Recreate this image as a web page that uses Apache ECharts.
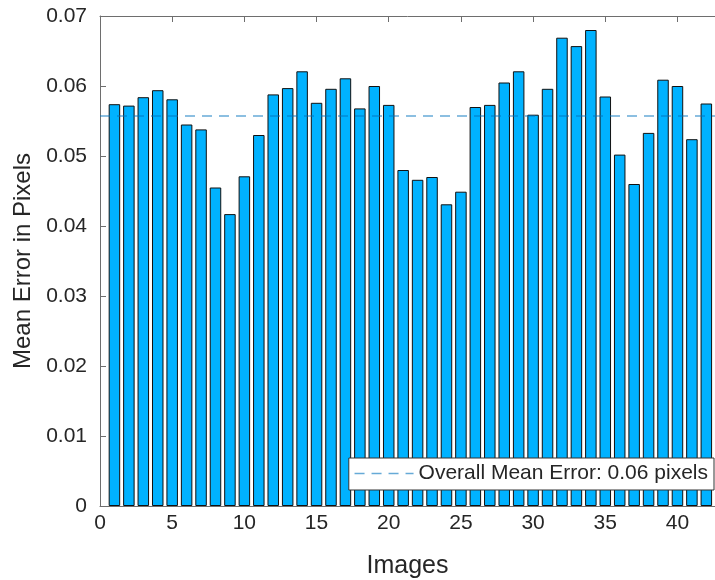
<!DOCTYPE html>
<html>
<head>
<meta charset="utf-8">
<script src="https://cdn.jsdelivr.net/npm/echarts@6/dist/echarts.min.js"></script>
<style>
  html, body { margin: 0; padding: 0; background: #fff; }
  #chart { width: 715px; height: 580px; }
</style>
</head>
<body>
<div id="chart"></div>
<script>
// Per-image reprojection error (pixels), images 1..42
const images = [1,2,3,4,5,6,7,8,9,10,11,12,13,14,15,16,17,18,19,20,21,
                22,23,24,25,26,27,28,29,30,31,32,33,34,35,36,37,38,39,40,41,42];
const meanErrors = [0.0574,0.0572,0.0584,0.0594,0.0581,0.0545,0.0538,0.0455,0.0417,0.0471,
                    0.0530,0.0588,0.0597,0.0621,0.0576,0.0596,0.0611,0.0568,0.0600,0.0573,
                    0.0480,0.0466,0.0470,0.0431,0.0449,0.0570,0.0573,0.0605,0.0621,0.0559,
                    0.0596,0.0669,0.0657,0.0680,0.0585,0.0502,0.0460,0.0533,0.0609,0.0600,
                    0.0524,0.0575];
const overallMean = 0.0557;
const legendLabel = 'Overall Mean Error: 0.06 pixels';
const xRange = [0, 42.6];
const yRange = [0, 0.07];

const FONT = 'Liberation Sans, Arial, Helvetica, sans-serif';
const AXIS_COLOR = '#6e6e6e';
const TEXT_COLOR = '#262626';
const MEAN_COLOR = 'rgba(0,114,189,0.6)';

const chart = echarts.init(document.getElementById('chart'), null, { renderer: 'canvas' });

const barData = images.map((x, i) => [x, meanErrors[i]]);
const meanLine = xRange.map(x => [x, overallMean]);

chart.setOption({
  animation: false,
  backgroundColor: '#fff',
  textStyle: { fontFamily: FONT },
  grid: { left: 100, right: 0, top: 16, bottom: 74, containLabel: false, outerBoundsMode: 'none' },
  legend: {
    data: [{ name: legendLabel }],
    right: 1, top: 458,
    itemWidth: 59, itemHeight: 14, itemGap: 0,
    padding: [5, 6, 6, 5],
    backgroundColor: '#fff',
    borderColor: '#333',
    borderWidth: 1,
    borderRadius: 0,
    itemStyle: { color: 'transparent', borderWidth: 0 },
    lineStyle: { color: MEAN_COLOR, width: 1.5, type: [10, 7] },
    textStyle: { fontFamily: FONT, fontSize: 21, color: TEXT_COLOR },
    selectedMode: false
  },
  xAxis: [{
    type: 'value',
    min: xRange[0], max: xRange[1], interval: 5,
    name: 'Images',
    nameLocation: 'middle',
    nameGap: 48,
    nameTextStyle: { fontFamily: FONT, fontSize: 25, color: TEXT_COLOR },
    axisLine: { show: true, lineStyle: { color: AXIS_COLOR, width: 1 } },
    axisTick: { show: true, inside: true, length: 6, lineStyle: { color: AXIS_COLOR } },
    axisLabel: { fontSize: 21, color: TEXT_COLOR, margin: 7, showMaxLabel: false },
    splitLine: { show: false }
  }, {
    type: 'value', position: 'top',
    min: xRange[0], max: xRange[1], interval: 5,
    axisLine: { show: true, lineStyle: { color: AXIS_COLOR, width: 1 } },
    axisTick: { show: true, inside: true, length: 6, lineStyle: { color: AXIS_COLOR } },
    axisLabel: { show: false },
    splitLine: { show: false }
  }],
  yAxis: {
    type: 'value',
    min: yRange[0], max: yRange[1], interval: 0.01,
    name: 'Mean Error in Pixels',
    nameLocation: 'middle',
    nameGap: 64,
    nameTextStyle: { fontFamily: FONT, fontSize: 24, color: TEXT_COLOR },
    axisLine: { show: true, lineStyle: { color: AXIS_COLOR, width: 1 } },
    axisTick: { show: true, inside: true, length: 6, lineStyle: { color: AXIS_COLOR } },
    axisLabel: {
      fontSize: 21, color: TEXT_COLOR, margin: 13,
      formatter: v => (v === 0 ? '0' : v.toFixed(2))
    },
    splitLine: { show: false }
  },
  series: [{
    name: 'Mean Error',
    type: 'bar',
    data: barData,
    barWidth: 11.5,
    itemStyle: { color: '#00B2FF', borderColor: '#111', borderWidth: 1 },
    z: 2
  }, {
    name: legendLabel,
    type: 'line',
    data: meanLine,
    symbol: 'none',
    lineStyle: { color: MEAN_COLOR, width: 1.5, type: [10, 7] },
    itemStyle: { color: MEAN_COLOR },
    z: 3
  }]
});
</script>
</body>
</html>
